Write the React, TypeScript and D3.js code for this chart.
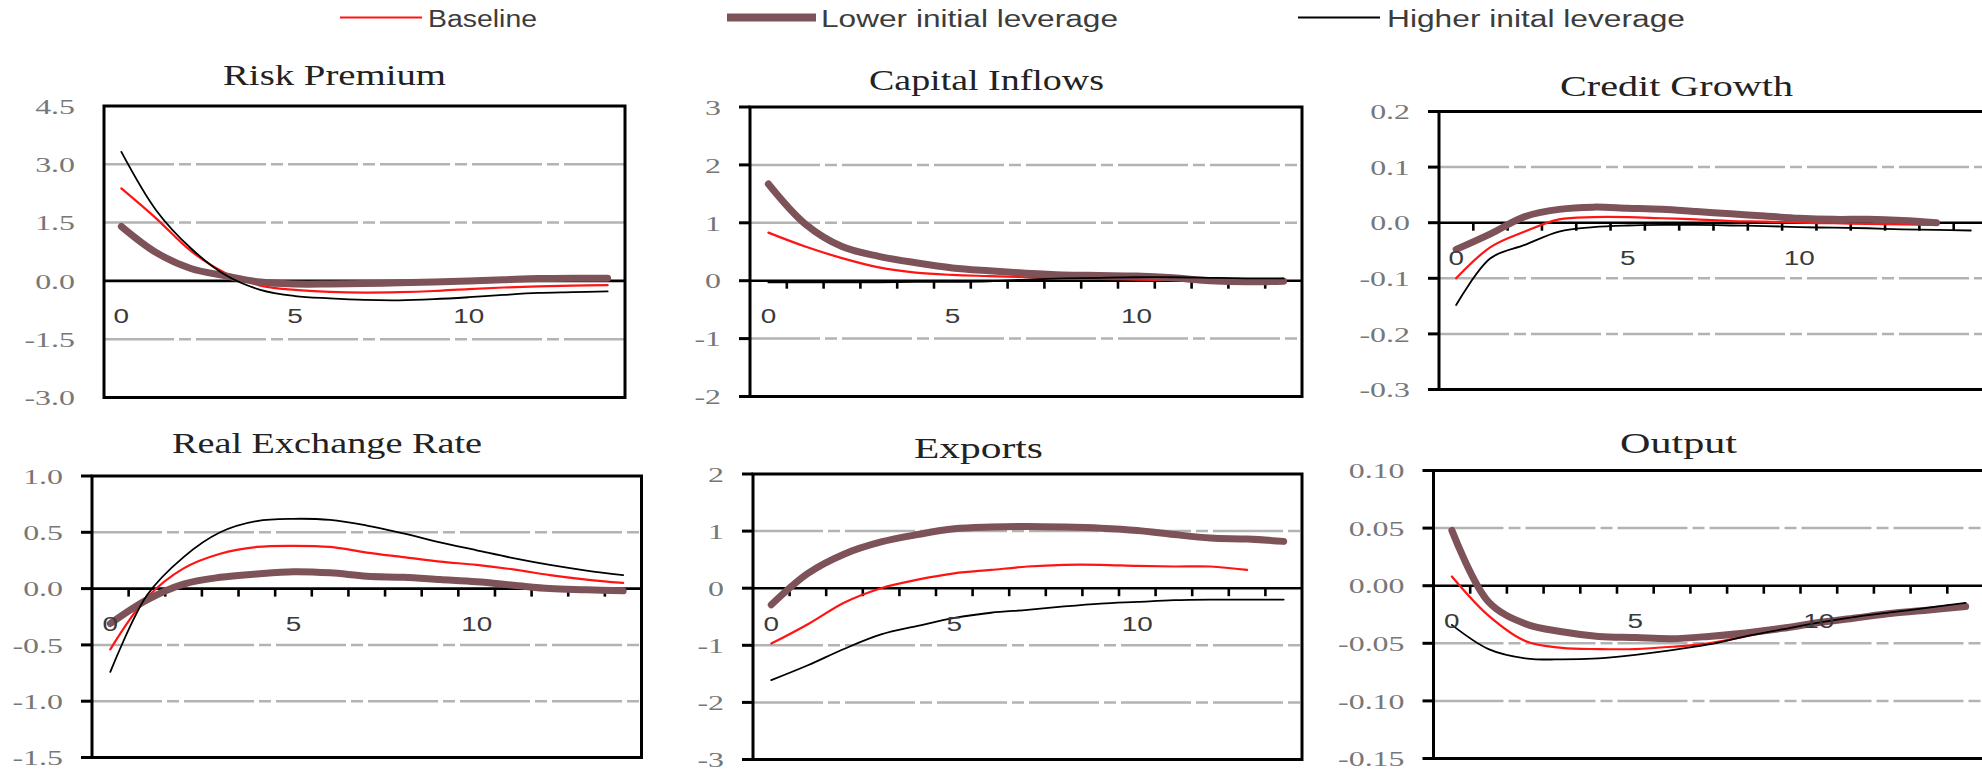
import React from "react";
import * as d3 from "d3";

const W = 1982;
const H = 771;

// periods after the shock
const periods = [0, 1, 2, 3, 4, 5, 6, 7, 8, 9, 10, 11, 12, 13, 14, 15];
const xLabels = [0, 5, 10];

// Risk Premium
const riskBaseline = [2.38, 1.61, 0.77, 0.2, -0.12, -0.23, -0.28, -0.3, -0.29, -0.26, -0.21, -0.17, -0.14, -0.12, -0.11];
const riskLower = [1.4, 0.73, 0.32, 0.13, -0.03, -0.08, -0.08, -0.07, -0.05, -0.03, 0.0, 0.03, 0.06, 0.07, 0.07];
const riskHigher = [3.32, 1.82, 0.84, 0.15, -0.23, -0.39, -0.45, -0.49, -0.5, -0.47, -0.42, -0.36, -0.31, -0.29, -0.27];

// Capital Inflows
const capBaseline = [0.83, 0.59, 0.39, 0.23, 0.14, 0.1, 0.08, 0.06, 0.04, 0.03, 0.02, 0.01, 0.0, 0.0, 0.0];
const capLower = [1.67, 0.98, 0.59, 0.42, 0.31, 0.22, 0.17, 0.13, 0.1, 0.09, 0.08, 0.05, 0.0, -0.02, -0.01];
const capHigher = [-0.03, -0.03, -0.03, -0.03, -0.02, -0.02, -0.01, 0.02, 0.04, 0.05, 0.06, 0.06, 0.05, 0.04, 0.04];

// Credit Growth
const creditBaseline = [-0.1, -0.044, -0.016, 0.006, 0.01, 0.01, 0.008, 0.006, 0.003, 0.002, 0.0, -0.001, -0.002, -0.003, -0.004];
const creditLower = [-0.048, -0.02, 0.011, 0.024, 0.028, 0.026, 0.024, 0.02, 0.016, 0.012, 0.008, 0.006, 0.006, 0.004, 0.0];
const creditHigher = [-0.148, -0.064, -0.04, -0.016, -0.008, -0.005, -0.004, -0.004, -0.005, -0.006, -0.008, -0.009, -0.01, -0.012, -0.013, -0.014];

// Real Exchange Rate
const rerBaseline = [-0.54, -0.08, 0.18, 0.31, 0.37, 0.38, 0.37, 0.32, 0.28, 0.24, 0.21, 0.17, 0.12, 0.08, 0.05];
const rerLower = [-0.31, -0.1, 0.04, 0.1, 0.13, 0.15, 0.14, 0.11, 0.1, 0.08, 0.06, 0.03, 0.0, -0.01, -0.02];
const rerHigher = [-0.74, -0.06, 0.28, 0.5, 0.6, 0.62, 0.61, 0.56, 0.49, 0.41, 0.34, 0.27, 0.21, 0.16, 0.12];

// Exports
const expBaseline = [-0.97, -0.63, -0.25, 0.0, 0.15, 0.26, 0.32, 0.38, 0.41, 0.41, 0.39, 0.38, 0.38, 0.32];
const expLower = [-0.29, 0.26, 0.6, 0.81, 0.94, 1.04, 1.07, 1.08, 1.07, 1.05, 1.01, 0.94, 0.88, 0.86, 0.82];
const expHigher = [-1.61, -1.35, -1.06, -0.81, -0.66, -0.52, -0.43, -0.38, -0.32, -0.27, -0.24, -0.21, -0.2, -0.2, -0.2];

// Output
const outBaseline = [0.008, -0.026, -0.048, -0.054, -0.055, -0.055, -0.053, -0.05, -0.044, -0.038, -0.033, -0.028, -0.024, -0.021, -0.019];
const outLower = [0.048, -0.014, -0.033, -0.04, -0.044, -0.045, -0.046, -0.044, -0.041, -0.037, -0.032, -0.028, -0.024, -0.021, -0.018];
const outHigher = [-0.034, -0.055, -0.063, -0.064, -0.063, -0.06, -0.056, -0.051, -0.044, -0.038, -0.032, -0.027, -0.023, -0.019, -0.015];

const seriesNames = ["Baseline", "Lower initial leverage", "Higher inital leverage"];
const seriesColors = ["#ff1414", "#7e5259", "#000000"];
const seriesWidths = [2.2, 7, 1.8];

// legend placement (line start/end, text start/width)
const legendLayout = [
  { x1: 340, x2: 422, tx: 428, tw: 109 },
  { x1: 727, x2: 816, tx: 821, tw: 297 },
  { x1: 1298, x2: 1380, tx: 1387, tw: 298 },
];

const panels = [
  {
    title: "Risk Premium", series: [riskBaseline, riskLower, riskHigher],
    yDomain: [-3, 4.5], yStep: 1.5, fmt: ".1f", cats: 15, ticks: false,
    left: 104, right: 625, top: 106, bottom: 397.5, titleX: 223, titleY: 85, titleW: 223,
  },
  {
    title: "Capital Inflows", series: [capBaseline, capLower, capHigher],
    yDomain: [-2, 3], yStep: 1, fmt: "d", cats: 15, ticks: true,
    left: 750, right: 1302, top: 107, bottom: 396.5, titleX: 869, titleY: 90, titleW: 235,
  },
  {
    title: "Credit Growth", series: [creditBaseline, creditLower, creditHigher],
    yDomain: [-0.3, 0.2], yStep: 0.1, fmt: ".1f", cats: 16, ticks: true,
    left: 1439, right: 1988, top: 111.5, bottom: 389.5, titleX: 1560, titleY: 96, titleW: 233,
  },
  {
    title: "Real Exchange Rate", series: [rerBaseline, rerLower, rerHigher],
    yDomain: [-1.5, 1], yStep: 0.5, fmt: ".1f", cats: 15, ticks: true,
    left: 92, right: 641.5, top: 476, bottom: 757.5, titleX: 172, titleY: 453, titleW: 310,
  },
  {
    title: "Exports", series: [expBaseline, expLower, expHigher],
    yDomain: [-3, 2], yStep: 1, fmt: "d", cats: 15, ticks: true,
    left: 753, right: 1302, top: 474, bottom: 759.5, titleX: 914, titleY: 458, titleW: 129,
  },
  {
    title: "Output", series: [outBaseline, outLower, outHigher],
    yDomain: [-0.15, 0.1], yStep: 0.05, fmt: ".2f", cats: 15, ticks: true,
    left: 1433.5, right: 1984, top: 470.5, bottom: 758.5, titleX: 1620, titleY: 453, titleW: 117,
  },
];

const Stretched = ({ x, y, sx, anchor, children, ...rest }: any) => (
  <text transform={`translate(${x},${y}) scale(${sx},1)`} textAnchor={anchor} {...rest}>
    {children}
  </text>
);

function Panel({ p }: { p: any }) {
  const x = d3.scaleLinear().domain([-0.5, p.cats - 0.5]).range([p.left, p.right]);
  const y = d3.scaleLinear().domain(p.yDomain).range([p.bottom, p.top]);
  const yVals = d3
    .range(p.yDomain[0], p.yDomain[1] + p.yStep / 2, p.yStep)
    .map((v: number) => Math.round(v * 1000) / 1000);
  const fmt = d3.format(p.fmt);
  const label = (v: number) => fmt(v).replace("\u2212", "-");
  const line = d3
    .line<number>()
    .x((_, i) => x(periods[i]))
    .y((d) => y(d))
    .curve(d3.curveCatmullRom.alpha(0.5));
  const y0 = y(0);

  return (
    <g>
      <text
        x={p.titleX}
        y={p.titleY}
        textLength={p.titleW}
        lengthAdjust="spacingAndGlyphs"
        fontFamily="'Liberation Serif', serif"
        fontSize={30}
        fill="#222"
      >
        {p.title}
      </text>

      {/* dashed gridlines */}
      {yVals
        .filter((v: number) => v !== 0 && v > p.yDomain[0] && v < p.yDomain[1])
        .map((v: number) => (
          <line
            key={"g" + v}
            x1={p.left}
            x2={p.right}
            y1={y(v)}
            y2={y(v)}
            stroke="#b3b3b3"
            strokeWidth={2.5}
            strokeDasharray="70 5 12 5"
          />
        ))}

      {/* y labels */}
      {yVals.map((v: number) => (
        <Stretched
          key={"l" + v}
          x={p.left - 29}
          y={y(v)}
          sx={1.45}
          anchor="end"
          dy="0.35em"
          fontFamily="'Liberation Serif', serif"
          fontSize={22}
          fill="#777"
        >
          {label(v)}
        </Stretched>
      ))}

      {p.ticks &&
        yVals.map((v: number) => (
          <line key={"t" + v} x1={p.left - 11} x2={p.left} y1={y(v)} y2={y(v)} stroke="#000" strokeWidth={3} />
        ))}

      {/* zero axis */}
      <line x1={p.left} x2={p.right} y1={y0} y2={y0} stroke="#000" strokeWidth={2.6} />
      {p.ticks &&
        d3.range(p.cats - 1).map((k: number) => (
          <line key={"xt" + k} x1={x(k + 0.5)} x2={x(k + 0.5)} y1={y0} y2={y0 + 8} stroke="#000" strokeWidth={2.6} />
        ))}

      {p.series.map((s: number[], i: number) => (
        <path
          key={"s" + i}
          d={line(s) || ""}
          fill="none"
          stroke={seriesColors[i]}
          strokeWidth={seriesWidths[i]}
          strokeLinejoin="round"
          strokeLinecap="round"
        />
      ))}

      <rect
        x={p.left}
        y={p.top}
        width={p.right - p.left}
        height={p.bottom - p.top}
        fill="none"
        stroke="#000"
        strokeWidth={3}
      />

      {xLabels.map((v) => (
        <Stretched
          key={"x" + v}
          x={x(v)}
          y={y0 + 35}
          sx={1.33}
          anchor="middle"
          dy="0.35em"
          fontFamily="'Liberation Sans', sans-serif"
          fontSize={21}
          fill="#3a3a3a"
        >
          {v}
        </Stretched>
      ))}
    </g>
  );
}

export default function App() {
  return (
    <div style={{ position: "absolute", left: 0, top: 0 }}>
      <svg width={W} height={H} style={{ display: "block", background: "#fff" }}>
        {seriesNames.map((name, i) => (
          <g key={name}>
            <line
              x1={legendLayout[i].x1}
              x2={legendLayout[i].x2}
              y1={17.5}
              y2={17.5}
              stroke={seriesColors[i]}
              strokeWidth={i === 1 ? 8 : seriesWidths[i]}
            />
            <text
              x={legendLayout[i].tx}
              y={26.5}
              textLength={legendLayout[i].tw}
              lengthAdjust="spacingAndGlyphs"
              fontFamily="'Liberation Sans', sans-serif"
              fontSize={23}
              fill="#3c3c3c"
            >
              {name}
            </text>
          </g>
        ))}
        {panels.map((p) => (
          <Panel key={p.title} p={p} />
        ))}
      </svg>
    </div>
  );
}
